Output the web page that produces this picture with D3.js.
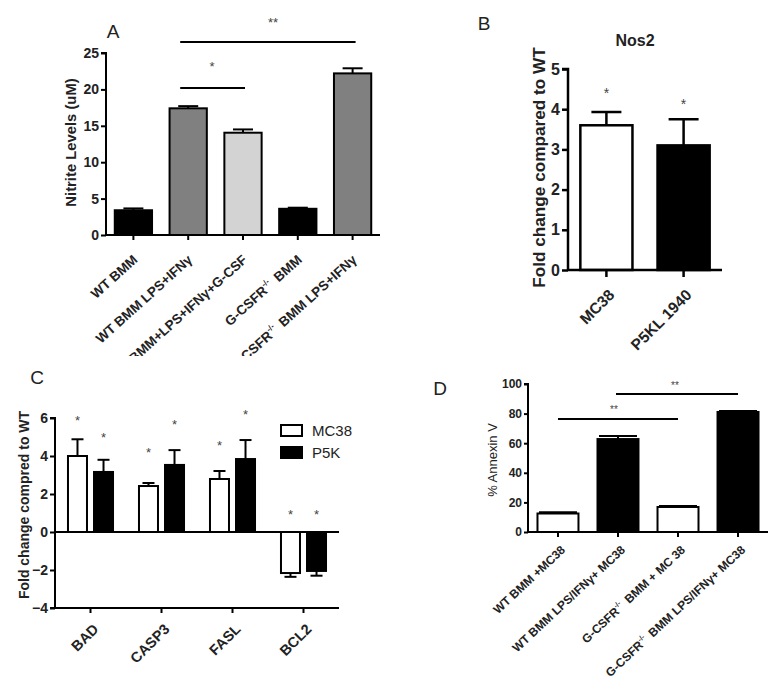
<!DOCTYPE html>
<html><head><meta charset="utf-8">
<script src="https://cdn.jsdelivr.net/npm/d3@7"></script>
<style>
body{margin:0;background:#fff;}
svg{font-family:"Liberation Sans",Arial,sans-serif;}
</style></head><body>
<svg id="c" width="775" height="684"></svg>
<script>
// ---------- DATA ----------
const aCats = ["WT BMM","WT BMM LPS+IFNγ","WT BMM+LPS+IFNγ+G-CSF","G-CSFR-/- BMM","G-CSFR-/- BMM LPS+IFNγ"];
const aVals = [3.4, 17.4, 14.05, 3.6, 22.2];
const aErr  = [0.25, 0.3, 0.45, 0.15, 0.7];
const aFill = ["#000","#808080","#d3d3d3","#000","#808080"];
const aTicks = [0,5,10,15,20,25];

const bCats = ["MC38","P5KL 1940"];
const bVals = [3.6, 3.1];
const bErr  = [0.33, 0.65];
const bTicks = [0,1,2,3,4,5];

const cCats = ["BAD","CASP3","FASL","BCL2"];
const cSeries = ["MC38","P5K"];
const cMC38 = [4.0, 2.42, 2.79, -2.16];
const cMC38Err = [0.88, 0.16, 0.42, 0.2];
const cP5K = [3.16, 3.53, 3.84, -2.05];
const cP5KErr = [0.64, 0.78, 1.0, 0.25];
const cStarMC38 = [6.0, 4.3, 4.7, 1.05];
const cStarP5K = [5.1, 5.8, 6.3, 1.05];
const cTicks = [-4,-2,0,2,4,6];

const dCats = ["WT BMM +MC38","WT BMM LPS/IFNγ+ MC38","G-CSFR-/- BMM + MC 38","G-CSFR-/- BMM LPS/IFNγ+ MC38"];
const dVals = [12.5, 62.8, 16.9, 81.1];
const dErr  = [0.8, 2.1, 0.6, 0.7];
const dFill = ["#fff","#000","#fff","#000"];
const dTicks = [0,20,40,60,80,100];

const svg = d3.select("#c");
const INK = "#222";

function axisStyle(g, fs){
  g.selectAll("path,line").attr("stroke","#000").attr("stroke-width",2);
  g.selectAll("text").attr("font-weight","bold").attr("font-size",fs).attr("fill",INK);
}
// write label with -/- superscript
function writeLabel(t, s, fs){
  const parts = s.split("-/-");
  parts.forEach((p,i)=>{
    t.append("tspan").text(p);
    if(i<parts.length-1){
      t.append("tspan").attr("font-size",fs*0.6).attr("dy",-fs*0.45).text("-/-");
      t.append("tspan").attr("dy",fs*0.45).text("\u2009");
    }
  });
}

// ---------- PANEL A ----------
{
  const x = d3.scaleBand().domain(aCats).range([106,380]).paddingInner(0.32).paddingOuter(0.16);
  const y = d3.scaleLinear().domain([0,25]).range([235,53]);
  const g = svg.append("g");
  g.append("defs").append("clipPath").attr("id","clipA").append("rect").attr("x",0).attr("y",0).attr("width",400).attr("height",356);
  g.selectAll("rect.bar").data(aVals).join("rect").attr("x",(d,i)=>x(aCats[i])).attr("width",x.bandwidth())
    .attr("y",d=>y(d)).attr("height",d=>y(0)-y(d)).attr("fill",(d,i)=>aFill[i]).attr("stroke","#000").attr("stroke-width",2);
  aVals.forEach((v,i)=>{
    const cx = x(aCats[i])+x.bandwidth()/2;
    g.append("line").attr("x1",cx).attr("x2",cx).attr("y1",y(v)).attr("y2",y(v+aErr[i])).attr("stroke","#000").attr("stroke-width",2);
    g.append("line").attr("x1",cx-10).attr("x2",cx+10).attr("y1",y(v+aErr[i])).attr("y2",y(v+aErr[i])).attr("stroke","#000").attr("stroke-width",2);
  });
  const ya = g.append("g").attr("transform","translate(106,0)").call(d3.axisLeft(y).tickValues(aTicks).tickSize(5).tickPadding(2));
  axisStyle(ya,14); ya.select(".domain").attr("d","M-5,53H0V235");
  const xa = g.append("g").attr("transform","translate(0,235)").call(d3.axisBottom(x).tickSize(5).tickFormat(""));
  axisStyle(xa,11); xa.select(".domain").attr("d","M106,0H380");
  const lab = g.append("g").attr("clip-path","url(#clipA)");
  aCats.forEach(c=>{
    const t = lab.append("text").attr("transform",`translate(${x(c)+x.bandwidth()/2+5},${261}) rotate(-42)`)
      .attr("text-anchor","end").attr("font-size",13.5).attr("font-weight","bold").attr("fill",INK);
    writeLabel(t,c,13.5);
  });
  g.append("text").attr("transform","translate(76,142.5) rotate(-90)").attr("text-anchor","middle")
    .attr("font-size",14.8).attr("font-weight","bold").attr("fill",INK).text("Nitrite Levels (uM)");
  g.append("text").attr("x",113).attr("y",38).attr("text-anchor","middle").attr("font-size",19).attr("fill",INK).text("A");
  // significance
  const c1 = x(aCats[1])+x.bandwidth()/2, c2 = x(aCats[2])+x.bandwidth()/2, c4 = x(aCats[4])+x.bandwidth()/2;
  g.append("line").attr("x1",c1-8).attr("x2",c2+2).attr("y1",88).attr("y2",88).attr("stroke","#000").attr("stroke-width",2);
  g.append("text").attr("x",212).attr("y",71).attr("text-anchor","middle").attr("font-size",13).attr("fill","#444").text("*");
  g.append("line").attr("x1",c1-8).attr("x2",c4+3).attr("y1",42).attr("y2",42).attr("stroke","#000").attr("stroke-width",2);
  g.append("text").attr("x",273).attr("y",27).attr("text-anchor","middle").attr("font-size",13).attr("fill","#444").text("**");
}

// ---------- PANEL B ----------
{
  const x = d3.scaleBand().domain(bCats).range([568,722]).paddingInner(0.325).paddingOuter(0.16);
  const y = d3.scaleLinear().domain([0,5]).range([270,69]);
  const g = svg.append("g");
  g.selectAll("rect.bar").data(bVals).join("rect").attr("x",(d,i)=>x(bCats[i])).attr("width",x.bandwidth())
    .attr("y",d=>y(d)).attr("height",d=>y(0)-y(d)).attr("fill",(d,i)=>i?"#000":"#fff").attr("stroke","#000").attr("stroke-width",2.5);
  bVals.forEach((v,i)=>{
    const cx = x(bCats[i])+x.bandwidth()/2;
    g.append("line").attr("x1",cx).attr("x2",cx).attr("y1",y(v)).attr("y2",y(v+bErr[i])).attr("stroke","#000").attr("stroke-width",2.5);
    g.append("line").attr("x1",cx-15).attr("x2",cx+15).attr("y1",y(v+bErr[i])).attr("y2",y(v+bErr[i])).attr("stroke","#000").attr("stroke-width",2.5);
    g.append("text").attr("x",cx).attr("y",y(v+bErr[i])-[14,10][i]).attr("text-anchor","middle").attr("font-size",14).attr("fill","#444").text("*");
  });
  const ya = g.append("g").attr("transform","translate(568,0)").call(d3.axisLeft(y).tickValues(bTicks).tickSize(6).tickPadding(2).tickFormat(d3.format("d")));
  axisStyle(ya,16); ya.selectAll("path,line").attr("stroke-width",2.5); ya.select(".domain").attr("d","M-6,69H0V270");
  const xa = g.append("g").attr("transform","translate(0,270)").call(d3.axisBottom(x).tickSize(7).tickFormat(""));
  axisStyle(xa,13); xa.selectAll("path,line").attr("stroke-width",2.5); xa.select(".domain").attr("d","M568,0H722");
  bCats.forEach(c=>{
    g.append("text").attr("transform",`translate(${x(c)+x.bandwidth()/2+9},${296}) rotate(-45)`)
      .attr("text-anchor","end").attr("font-size",15.5).attr("font-weight","bold").attr("fill",INK).text(c);
  });
  g.append("text").attr("transform","translate(545,167.5) rotate(-90)").attr("text-anchor","middle")
    .attr("font-size",17.2).attr("font-weight","bold").attr("fill",INK).text("Fold change compared to WT");
  g.append("text").attr("x",635).attr("y",46).attr("text-anchor","middle").attr("font-size",16).attr("font-weight","bold").attr("fill",INK).text("Nos2");
  g.append("text").attr("x",484).attr("y",30).attr("text-anchor","middle").attr("font-size",19).attr("fill",INK).text("B");
}

// ---------- PANEL C ----------
{
  const x = d3.scaleBand().domain(cCats).range([55,339]).paddingInner(0.2).paddingOuter(0.1);
  const xi = d3.scaleBand().domain(cSeries).range([0,x.bandwidth()]).paddingInner(0.27).paddingOuter(0.226);
  const y = d3.scaleLinear().domain([-4,6]).range([608,418]);
  const g = svg.append("g");
  const series = [[cMC38,cMC38Err,"#fff",cStarMC38],[cP5K,cP5KErr,"#000",cStarP5K]];
  series.forEach(([vals,errs,fill,stars],s)=>{
    vals.forEach((v,i)=>{
      const bx = x(cCats[i])+xi(cSeries[s]);
      const cx = bx + xi.bandwidth()/2;
      const e = v>=0 ? v+errs[i] : v-errs[i];
      g.append("line").attr("x1",cx).attr("x2",cx).attr("y1",y(v)).attr("y2",y(e)).attr("stroke","#000").attr("stroke-width",2);
      g.append("line").attr("x1",cx-6).attr("x2",cx+6).attr("y1",y(e)).attr("y2",y(e)).attr("stroke","#000").attr("stroke-width",2);
      g.append("rect").attr("x",bx).attr("width",xi.bandwidth()).attr("y",y(Math.max(v,0))).attr("height",Math.abs(y(v)-y(0)))
        .attr("fill",fill).attr("stroke","#000").attr("stroke-width",2);
      g.append("text").attr("x",cx).attr("y",y(stars[i])+7).attr("text-anchor","middle").attr("font-size",13).attr("fill","#444").text("*");
    });
  });
  const ya = g.append("g").attr("transform","translate(55,0)").call(d3.axisLeft(y).tickValues(cTicks).tickSize(5).tickPadding(2));
  axisStyle(ya,14); ya.select(".domain").attr("d","M-5,418H0V608H-5");
  const xa = g.append("g").attr("transform",`translate(0,${y(0)})`).call(d3.axisBottom(x).tickSize(0).tickFormat(""));
  axisStyle(xa,13); xa.select(".domain").attr("d","M55,0H339");
  const xb = g.append("g").attr("transform","translate(0,608)").call(d3.axisBottom(x).tickSize(5).tickFormat(""));
  axisStyle(xb,13); xb.select(".domain").attr("d","M55,0H339");
  cCats.forEach(c=>{
    g.append("text").attr("transform",`translate(${x(c)+x.bandwidth()/2+9},${630}) rotate(-45)`)
      .attr("text-anchor","end").attr("font-size",14.5).attr("font-weight","bold").attr("fill",INK).text(c);
  });
  g.append("text").attr("transform","translate(29,505) rotate(-90)").attr("text-anchor","middle")
    .attr("font-size",14).attr("font-weight","bold").attr("fill",INK).text("Fold change compred to WT");
  g.append("text").attr("x",37).attr("y",384).attr("text-anchor","middle").attr("font-size",19).attr("fill",INK).text("C");
  // legend
  const lg = g.append("g").attr("transform","translate(281,425)");
  cSeries.forEach((s,i)=>{
    lg.append("rect").attr("x",0).attr("y",i*22).attr("width",21).attr("height",11).attr("fill",i?"#000":"#fff").attr("stroke","#000").attr("stroke-width",2);
    lg.append("text").attr("x",31).attr("y",i*22+11).attr("font-size",15).attr("fill",INK).text(s);
  });
}

// ---------- PANEL D ----------
{
  const x = d3.scaleBand().domain(dCats).range([528,768]).paddingInner(0.317).paddingOuter(0.158);
  const y = d3.scaleLinear().domain([0,100]).range([532,384]);
  const g = svg.append("g");
  g.selectAll("rect.bar").data(dVals).join("rect").attr("x",(d,i)=>x(dCats[i])).attr("width",x.bandwidth())
    .attr("y",d=>y(d)).attr("height",d=>y(0)-y(d)).attr("fill",(d,i)=>dFill[i]).attr("stroke","#000").attr("stroke-width",2);
  dVals.forEach((v,i)=>{
    const cx = x(dCats[i])+x.bandwidth()/2;
    g.append("line").attr("x1",cx).attr("x2",cx).attr("y1",y(v)).attr("y2",y(v+dErr[i])).attr("stroke","#000").attr("stroke-width",2);
    g.append("line").attr("x1",cx-19).attr("x2",cx+19).attr("y1",y(v+dErr[i])).attr("y2",y(v+dErr[i])).attr("stroke","#000").attr("stroke-width",2);
  });
  const ya = g.append("g").attr("transform","translate(528,0)").call(d3.axisLeft(y).tickValues(dTicks).tickSize(4).tickPadding(2));
  axisStyle(ya,12); ya.select(".domain").attr("d","M-4,384H0V532");
  const xa = g.append("g").attr("transform","translate(0,532)").call(d3.axisBottom(x).tickSize(5).tickFormat(""));
  axisStyle(xa,10); xa.select(".domain").attr("d","M528,0H768");
  dCats.forEach(c=>{
    const t = g.append("text").attr("transform",`translate(${x(c)+x.bandwidth()/2+8},${551}) rotate(-43)`)
      .attr("text-anchor","end").attr("font-size",12).attr("font-weight","bold").attr("fill",INK);
    writeLabel(t,c,12);
  });
  g.append("text").attr("transform","translate(497,460) rotate(-90)").attr("text-anchor","middle")
    .attr("font-size",13).attr("fill",INK).text("% Annexin V");
  g.append("text").attr("x",440).attr("y",395).attr("text-anchor","middle").attr("font-size",19).attr("fill",INK).text("D");
  const c0 = x(dCats[0])+x.bandwidth()/2, c1 = x(dCats[1])+x.bandwidth()/2, c2 = x(dCats[2])+x.bandwidth()/2, c3 = x(dCats[3])+x.bandwidth()/2;
  g.append("line").attr("x1",c0).attr("x2",c2).attr("y1",419).attr("y2",419).attr("stroke","#000").attr("stroke-width",1.8);
  g.append("text").attr("x",614).attr("y",413).attr("text-anchor","middle").attr("font-size",10).attr("fill","#444").text("**");
  g.append("line").attr("x1",c1-2).attr("x2",c3).attr("y1",394).attr("y2",394).attr("stroke","#000").attr("stroke-width",1.8);
  g.append("text").attr("x",675).attr("y",389).attr("text-anchor","middle").attr("font-size",10).attr("fill","#444").text("**");
}
</script></body></html>
